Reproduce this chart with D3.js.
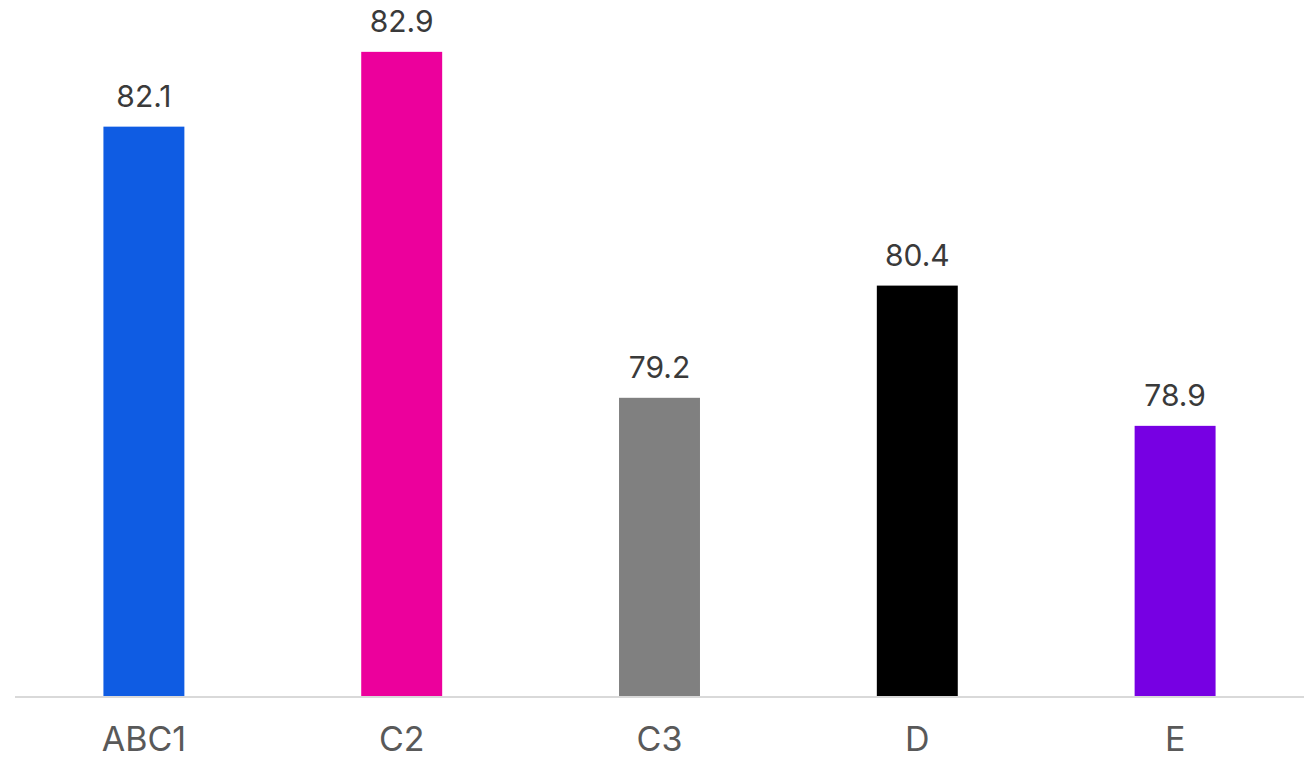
<!DOCTYPE html>
<html>
<head>
<meta charset="utf-8">
<script src="https://cdn.jsdelivr.net/npm/d3@7"></script>
<style>
  html, body { margin: 0; padding: 0; background: #fff; }
  svg { display: block; }
</style>
</head>
<body>
<svg id="chart" width="1312" height="758"></svg>
<script>
const categories = ["ABC1", "C2", "C3", "D", "E"];
const values = [82.1, 82.9, 79.2, 80.4, 78.9];
const colors = ["#0f5ce3", "#ec009c", "#808080", "#000000", "#7700e3"];

const svg = d3.select("#chart");
const left = 15, right = 1304, baseY = 697;

const x = d3.scaleBand().domain(categories).range([left, right]).paddingInner(0.686).paddingOuter(0.343);
const y = d3.scaleLinear().domain([76, 83]).range([baseY, baseY - 7 * 93.5]);

svg.selectAll("rect.bar")
  .data(values)
  .enter().append("rect")
  .attr("class", "bar")
  .attr("x", (d, i) => x(categories[i]))
  .attr("y", d => y(d))
  .attr("width", x.bandwidth())
  .attr("height", d => baseY - y(d))
  .attr("fill", (d, i) => colors[i]);

svg.selectAll("text.val")
  .data(values)
  .enter().append("text")
  .attr("class", "val")
  .attr("x", (d, i) => x(categories[i]) + x.bandwidth() / 2)
  .attr("y", d => y(d) - 20)
  .attr("text-anchor", "middle")
  .attr("font-family", "Inter, 'Open Sans', sans-serif")
  .attr("font-size", 30)
  .attr("fill", "#3a3a3a")
  .text(d => d.toFixed(1));

const xAxis = d3.axisBottom(x).tickSize(0).tickPadding(0);
const gx = svg.append("g").attr("transform", `translate(0,${baseY})`).call(xAxis);
gx.select(".domain").attr("stroke", "#d9d9d9").attr("stroke-width", 2).attr("d", `M${left},0H${right}`);
gx.selectAll(".tick text")
  .attr("dy", null)
  .attr("y", 54)
  .attr("font-family", "Inter, 'Open Sans', sans-serif")
  .attr("font-size", 34)
  .attr("fill", "#595959");
</script>
</body>
</html>
